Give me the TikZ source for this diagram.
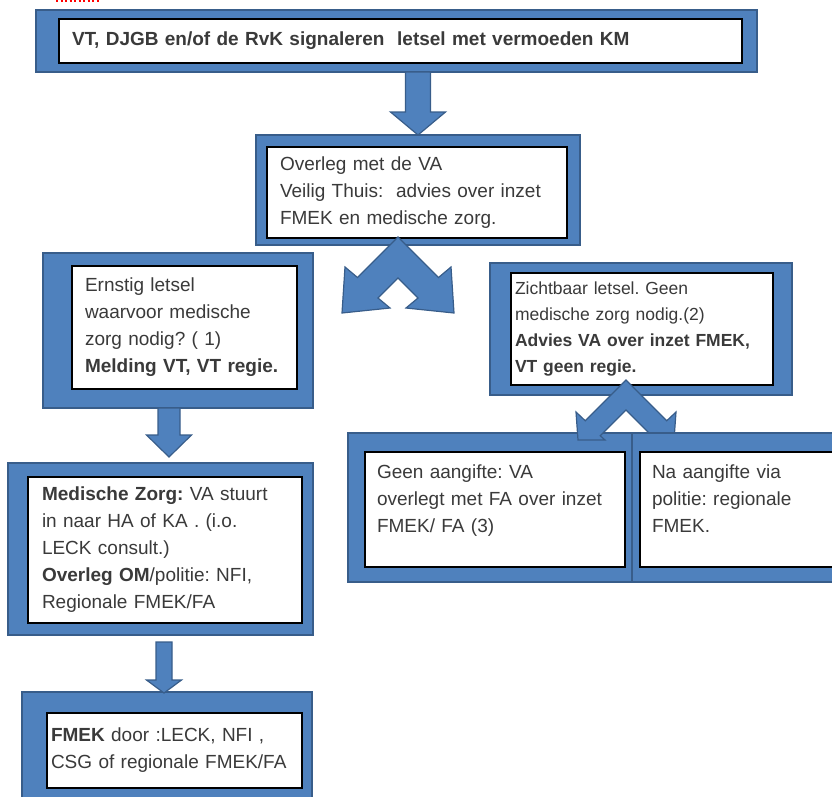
\documentclass[tikz,border=0pt]{standalone}
\usepackage{fontspec}
\setmainfont{Liberation Sans}
\usetikzlibrary{calc}
\frenchspacing
\definecolor{boxblue}{HTML}{4F81BD}
\definecolor{edgeblue}{HTML}{385D8A}
\definecolor{txtgray}{HTML}{3A3A3A}
\tikzset{
  bluebox/.style={draw=edgeblue,fill=boxblue,line width=1.5pt,inner sep=0pt,outer sep=0pt},
  txtbox/.style={draw=black,fill=white,line width=1.2pt,align=left,text=txtgray,inner ysep=0pt,outer sep=0pt,
    font=\fontsize{19}{27}\selectfont},
  barrow/.style={draw=edgeblue,fill=boxblue,line width=1.2pt,line join=miter}
}
% vertical block arrow: from, to, shaft half width, head half width, head length
\newcommand{\blockarrow}[5]{%
  \filldraw[barrow] ($(#1)+(-#3,0)$) -- ($(#2)+(-#3,-#5)$) -- ($(#2)+(-#4,-#5)$) -- (#2)
    -- ($(#2)+(#4,-#5)$) -- ($(#2)+(#3,-#5)$) -- ($(#1)+(#3,0)$) -- cycle;}

\begin{document}
\begin{tikzpicture}[x=1pt,y=-1pt]
\useasboundingbox (0,0) rectangle (832,796);
\clip (0,0) rectangle (832,796);
\draw[red,line width=2pt,dash pattern=on 2pt off 2.5pt] (56,1) -- (100,1);

% top row
\node[bluebox,minimum width=721pt,minimum height=62pt] (signframe) at (396.5,41) {};
\node[txtbox,inner xsep=13pt,minimum width=683pt,minimum height=44pt,text width=657pt] (sign) at (400.5,41)
  {\textbf{VT, DJGB en/of de RvK signaleren\ \ letsel met vermoeden KM}};

\node[bluebox,minimum width=324pt,minimum height=110pt] (overframe) at (418,190) {};
\node[txtbox,inner xsep=13pt,minimum width=300pt,minimum height=91pt,text width=274pt] (overleg) at (417,192.5)
  {Overleg met de VA\\ Veilig Thuis:\ \ advies over inzet\\ FMEK en medische zorg.};

\blockarrow{overframe.north |- signframe.south}{overframe.north}{12.5}{27.5}{23}

% split
\coordinate (split1) at ($(overframe.south)+(-20,-8)$);
\filldraw[barrow,shift={(split1)}] (0,0) -- (-40.5,40.5) -- (-53,30) -- (-56,76) -- (-8,71) -- (-20,61)
  -- (0,41) -- (20,61) -- (8,71) -- (56,76) -- (53,30) -- (40.5,40.5) -- cycle;

% left branch
\node[bluebox,minimum width=270pt,minimum height=155pt] (ernframe) at (178,330.5) {};
\node[txtbox,inner xsep=13pt,minimum width=225pt,minimum height=123pt,text width=199pt] (ernstig) at (184.5,327.5)
  {Ernstig letsel\\ waarvoor medische\\ zorg nodig? ( 1)\\ \textbf{Melding VT, VT regie.}};

\node[bluebox,minimum width=305pt,minimum height=172pt] (medframe) at (160.5,549) {};
\node[txtbox,inner xsep=14pt,minimum width=274pt,minimum height=146pt,text width=246pt] (medisch) at (165,550)
  {\textbf{Medische Zorg:} VA stuurt\\ in naar HA of KA . (i.o.\\ LECK consult.)\\
   \textbf{Overleg OM}/politie: NFI,\\ Regionale FMEK/FA};

\node[bluebox,minimum width=290pt,minimum height=114pt] (fmekframe) at (167,749) {};
\node[txtbox,inner xsep=4pt,minimum width=255pt,minimum height=75pt,text width=247pt] (fmek) at (174.5,750.5)
  {\textbf{FMEK} door :LECK, NFI ,\\ CSG of regionale FMEK/FA};

\blockarrow{$(ernframe.south)+(-9,0)$}{$(medframe.north)+(8.5,-6)$}{11}{22.5}{22}
\blockarrow{$(medframe.south)+(3.5,7)$}{$(fmekframe.north)+(-3,1)$}{8}{17.5}{13}

% right branch
\node[bluebox,minimum width=302pt,minimum height=132pt] (zichtframe) at (641,329) {};
\node[txtbox,inner xsep=4pt,minimum width=262pt,minimum height=112pt,text width=254pt,
  font=\fontsize{17.5}{26}\selectfont] (zicht) at (642,329)
  {Zichtbaar letsel. Geen\\ medische zorg nodig.(2)\\ \textbf{Advies VA over inzet FMEK,}\\ \textbf{VT geen regie.}};

\node[bluebox,minimum width=284pt,minimum height=149pt] (geenframe) at (490,507.5) {};
\coordinate (split2) at ($(zichtframe.south)+(-15,-15)$);
\filldraw[barrow,shift={(split2)}] (0,0) -- (-40.75,40.75) -- (-50,32) -- (-48,60) -- (-21,60) -- (-25.75,55.75)
  -- (0,30) -- (25.75,55.75) -- (21,60) -- (48,60) -- (50,32) -- (40.75,40.75) -- cycle;
\node[bluebox,minimum width=218pt,minimum height=149pt] (naframe) at (741,507.5) {};

\node[txtbox,inner xsep=12pt,minimum width=260pt,minimum height=115pt,text width=236pt] (geen) at (495,509.5)
  {Geen aangifte: VA\\ overlegt met FA over inzet\\ FMEK/ FA (3)\\[-5pt]~};
\node[txtbox,inner xsep=12pt,minimum width=210pt,minimum height=115pt,text width=186pt] (aangifte) at (745,509.5)
  {Na aangifte via\\ politie: regionale\\ FMEK.\\[-5pt]~};

\end{tikzpicture}
\end{document}
